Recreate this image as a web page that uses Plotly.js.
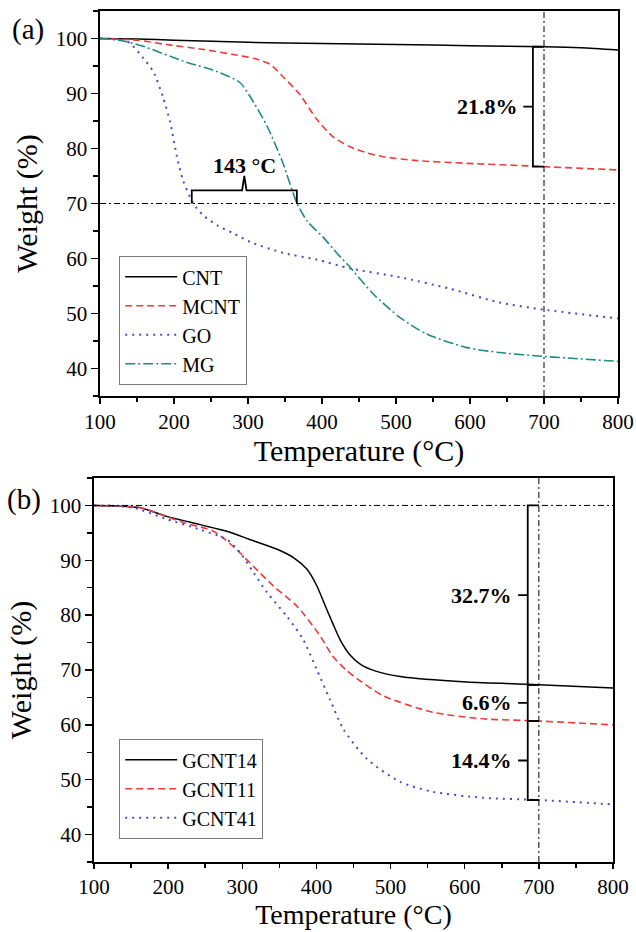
<!DOCTYPE html>
<html>
<head>
<meta charset="utf-8">
<script src="https://cdn.plot.ly/plotly-3.0.1.min.js"></script>
<style>html,body{margin:0;padding:0;background:#fff;}#chart{width:636px;height:932px;}</style>
</head>
<body>
<div id="chart"></div>
<script>
// ---------- Panel (a) data ----------
const cntT  = [100,150,200,300,400,500,600,700,750,800];
const cntW  = [100,99.9,99.7,99.3,99.1,98.9,98.7,98.5,98.3,97.9];
const mcntT = [100,150,190,240,280,310,330,347,370,393,415,438,461,483,528,596,685,700,800];
const mcntW = [100,99.7,98.9,98.0,97.1,96.3,95.3,93.1,89.8,85.3,82.1,80.3,79.2,78.5,77.8,77.3,76.8,76.7,76.1];
const goT   = [100,120,140,158,172,185,195,204,212,226,240,260,280,303,348,393,438,505,573,640,700,800];
const goW   = [100,99.9,99.2,96.5,94.0,89.4,84.7,78.5,74.3,70.0,67.8,65.9,64.6,63.0,61.0,59.8,58.2,56.6,54.5,52.0,50.7,49.1];
const mgT   = [100,130,158,212,258,289,303,326,347,366,380,402,420,438,469,505,541,596,640,700,800];
const mgW   = [100,99.6,98.6,95.9,94.0,92.0,89.4,84.0,77.4,70.1,66.8,63.8,61.0,58.4,53.6,49.3,46.3,43.8,42.9,42.2,41.3];

// ---------- Panel (b) data ----------
const g14T = [100,130,162,198,243,279,310,347,369,387,400,411,422,432,445,460,480,513,603,685,700,800];
const g14W = [100,99.9,99.6,98.0,96.5,95.3,93.8,92.0,90.5,88.4,85.5,82.0,78.5,75.5,72.8,71.0,69.8,68.8,67.8,67.4,67.3,66.7];
const g11T = [100,130,162,220,261,288,315,342,374,405,422,440,455,490,557,625,700,800];
const g11W = [100,99.9,99.6,96.9,95.3,92.5,88.9,85.3,81.6,76.2,72.5,70.0,68.4,65.3,62.3,61.1,60.7,60.0];
const g41T = [100,130,153,198,243,279,297,315,333,360,382,400,418,436,468,513,557,625,700,800];
const g41W = [100,99.9,99.6,97.5,95.6,93.8,91.4,87.8,84.2,79.8,75.6,70.2,64.7,59.3,53.8,49.6,47.8,46.7,46.3,45.5];

// ---------- Tick labels / axes ----------
const xTicks = [100,200,300,400,500,600,700,800];
const yTicks = [40,50,60,70,80,90,100];

// ---------- Reference lines and brackets ----------
const refTemp = 700;          // vertical dash-dot line
const refWeightA = 70;        // horizontal line panel (a)
const refWeightB = 100;       // horizontal line panel (b)
const braceA = {left: 224, right: 366, base: 70, bar: 72.4, tip: 75, label: '143 °C', labelY: 76.9};
const bracketsA = [{label: '21.8%', top: 98.5, bottom: 76.7}];
const bracketsB = [
  {label: '32.7%', top: 100, bottom: 67.3},
  {label: '6.6%',  top: 67.3, bottom: 60.7},
  {label: '14.4%', top: 60.7, bottom: 46.3}
];
const bracketX = 685, bracketTickX = 672, bracketTextX = 667;

const FONT = 'Liberation Serif';
const RED = '#ef3b3b', BLUE = '#4b4bc8', TEAL = '#1e8c82';

function tr(x, y, name, color, dash, width, xa, ya, legend) {
  return {x: x, y: y, name: name, type: 'scatter', mode: 'lines', xaxis: xa, yaxis: ya,
    legend: legend, line: {color: color, dash: dash, width: width, shape: 'spline', smoothing: 0.7}};
}

const data = [
  tr(cntT, cntW, 'CNT', '#000', 'solid', 1.5, 'x', 'y', 'legend'),
  tr(mcntT, mcntW, 'MCNT', RED, '7px,4px', 1.6, 'x', 'y', 'legend'),
  tr(goT, goW, 'GO', BLUE, '2px,5px', 2, 'x', 'y', 'legend'),
  tr(mgT, mgW, 'MG', TEAL, '10px,3px,2px,3px', 1.6, 'x', 'y', 'legend'),
  tr(g14T, g14W, 'GCNT14', '#000', 'solid', 1.5, 'x2', 'y2', 'legend2'),
  tr(g11T, g11W, 'GCNT11', RED, '7px,4px', 1.6, 'x2', 'y2', 'legend2'),
  tr(g41T, g41W, 'GCNT41', BLUE, '2px,5px', 2, 'x2', 'y2', 'legend2')
];

function xAxis(domain, anchor, titleSize, standoff, tlen) {
  return {domain: domain, anchor: anchor, range: [100, 800], tickvals: xTicks,
    showline: true, mirror: true, linecolor: '#000', linewidth: 1.6,
    ticks: 'outside', ticklen: tlen, tickwidth: 1.5, tickcolor: '#000',
    minor: {dtick: 50, ticks: 'outside', ticklen: 4, tickwidth: 1.5, tickcolor: '#000', showgrid: false},
    showgrid: false, zeroline: false, fixedrange: true,
    tickfont: {family: FONT, size: 21, color: '#000'},
    title: {text: 'Temperature (°C)', font: {family: FONT, size: titleSize, color: '#000'}, standoff: standoff}};
}
function yAxis(domain, anchor) {
  return {domain: domain, anchor: anchor, range: [35, 105], tickvals: yTicks,
    showline: true, mirror: true, linecolor: '#000', linewidth: 1.6,
    ticks: 'outside', ticklen: 7, tickwidth: 1.5, tickcolor: '#000',
    minor: {dtick: 5, ticks: 'outside', ticklen: 5, tickwidth: 1.5, tickcolor: '#000', showgrid: false},
    showgrid: false, zeroline: false, fixedrange: true,
    tickfont: {family: FONT, size: 21, color: '#000'},
    title: {text: 'Weight (%)', font: {family: FONT, size: 30, color: '#000'}, standoff: 9}};
}

const shapes = [];
const annotations = [];
const refLine = {color: '#000', width: 1, dash: '6px,3px,2px,3px'};
const bracketLine = {color: '#000', width: 1.8};

// Reference lines
shapes.push({type: 'line', xref: 'x', yref: 'y domain', x0: refTemp, x1: refTemp, y0: 0, y1: 1, line: refLine});
shapes.push({type: 'line', xref: 'x domain', yref: 'y', x0: 0, x1: 1, y0: refWeightA, y1: refWeightA, line: refLine});
shapes.push({type: 'line', xref: 'x2', yref: 'y2 domain', x0: refTemp, x1: refTemp, y0: 0, y1: 1, line: refLine});
shapes.push({type: 'line', xref: 'x2 domain', yref: 'y2', x0: 0, x1: 1, y0: refWeightB, y1: refWeightB, line: refLine});

// Horizontal brace (a)
const bm = (braceA.left + braceA.right) / 2;
shapes.push({type: 'path', xref: 'x', yref: 'y', line: bracketLine,
  path: `M ${braceA.left},${braceA.base} L ${braceA.left},${braceA.bar} L ${bm-3},${braceA.bar} L ${bm},${braceA.tip} L ${bm+3},${braceA.bar} L ${braceA.right},${braceA.bar} L ${braceA.right},${braceA.base}`});
annotations.push({xref: 'x', yref: 'y', x: bm, y: braceA.labelY, text: '<b>' + braceA.label + '</b>',
  showarrow: false, font: {family: FONT, size: 22, color: '#000'}, xanchor: 'center', yanchor: 'middle'});

// Vertical brackets
function addBrackets(list, xr, yr) {
  list.forEach(b => {
    const mid = (b.top + b.bottom) / 2;
    shapes.push({type: 'path', xref: xr, yref: yr, line: bracketLine,
      path: `M ${refTemp},${b.top} L ${bracketX},${b.top} L ${bracketX},${b.bottom} L ${refTemp},${b.bottom} M ${bracketX},${mid} L ${bracketTickX},${mid}`});
    annotations.push({xref: xr, yref: yr, x: bracketTextX, y: mid, text: '<b>' + b.label + '</b>',
      showarrow: false, font: {family: FONT, size: 22, color: '#000'}, xanchor: 'right', yanchor: 'middle'});
  });
}
addBrackets(bracketsA, 'x', 'y');
addBrackets(bracketsB, 'x2', 'y2');

// Panel labels
annotations.push({xref: 'paper', yref: 'paper', x: 28/636, y: 1 - 30/932, text: '(a)', showarrow: false,
  font: {family: FONT, size: 29, color: '#000'}, xanchor: 'center', yanchor: 'middle'});
annotations.push({xref: 'paper', yref: 'paper', x: 24/636, y: 1 - 499/932, text: '(b)', showarrow: false,
  font: {family: FONT, size: 29, color: '#000'}, xanchor: 'center', yanchor: 'middle'});

const legendStyle = {xanchor: 'left', yanchor: 'top', bgcolor: '#fff', bordercolor: '#7a7a7a', borderwidth: 1.2,
  font: {family: FONT, size: 20, color: '#000'}, tracegroupgap: 0, itemwidth: 52};

const layout = {
  width: 636, height: 932, autosize: false,
  margin: {l: 0, r: 0, t: 0, b: 0},
  paper_bgcolor: '#fff', plot_bgcolor: '#fff',
  font: {family: FONT, color: '#000'},
  xaxis: xAxis([100/636, 618/636], 'y', 30, 6, 6),
  yaxis: yAxis([1 - 396/932, 1 - 11/932], 'x'),
  xaxis2: xAxis([94/636, 613/636], 'y2', 28, 4, 5),
  yaxis2: yAxis([1 - 862/932, 1 - 478/932], 'x2'),
  legend: Object.assign({x: 119/636, y: 1 - 256/932}, legendStyle),
  legend2: Object.assign({x: 119/636, y: 1 - 739/932}, legendStyle),
  shapes: shapes,
  annotations: annotations
};

Plotly.newPlot('chart', data, layout, {displayModeBar: false, staticPlot: true});
</script>
</body>
</html>
